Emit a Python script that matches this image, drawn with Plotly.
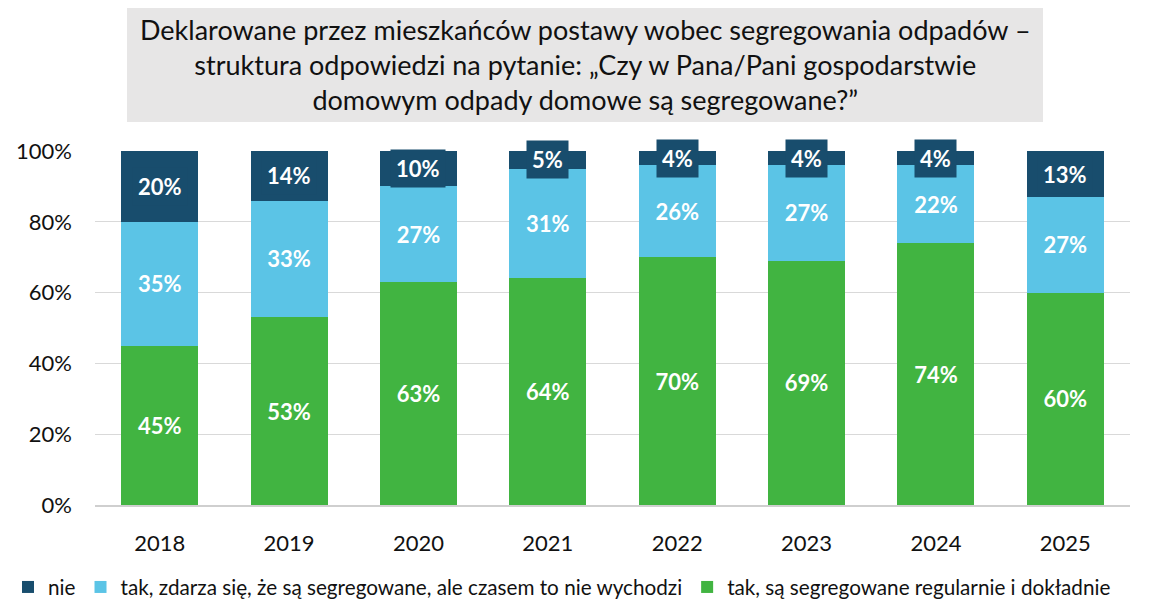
import plotly.graph_objects as go

years = ["2018", "2019", "2020", "2021", "2022", "2023", "2024", "2025"]
regularnie = [45, 53, 63, 64, 70, 69, 74, 60]
czasem = [35, 33, 27, 31, 26, 27, 22, 27]
nie = [20, 14, 10, 5, 4, 4, 4, 13]
y_ticks = [0, 20, 40, 60, 80, 100]

names = ["tak, są segregowane regularnie i dokładnie",
         "tak, zdarza się, że są segregowane, ale czasem to nie wychodzi",
         "nie"]
colors = ["#41B441", "#5BC4E6", "#184D6D"]

FONT = "Lato, sans-serif"

# page has an 8px body margin: figure sized/positioned so screen coords match
OFF = 8
W, H = 1156 - OFF, 600 - OFF
L, R, T, B = 95 - OFF, 26, 151 - OFF, 95
PW, PH = W - L - R, H - T - B


def px_x(x):
    return (x - OFF - L) / PW


def px_y(y):
    return (H - B - (y - OFF)) / PH


fig = go.Figure()
for vals, name, col, show_text in [(regularnie, names[0], colors[0], True),
                                    (czasem, names[1], colors[1], True),
                                    (nie, names[2], colors[2], False)]:
    fig.add_trace(go.Bar(
        x=years, y=vals, name=name, marker=dict(color=col, line=dict(width=0)),
        text=[f"{v}%" for v in vals] if show_text else None,
        textposition="inside" if show_text else "none",
        insidetextanchor="middle",
        textfont=dict(color="white", size=22, family=FONT, weight="bold"),
        constraintext="none",
        hoverinfo="skip",
    ))

# labels for top segment with dark background box
for i, y in enumerate(years):
    base = regularnie[i] + czasem[i]
    fig.add_annotation(
        x=i, y=base + nie[i] / 2, xref="x", yref="y",
        text=f"<b>{nie[i]}%</b>", showarrow=False,
        font=dict(color="white", size=22, family=FONT),
        bgcolor=colors[2], borderpad=5,
    )

# title box
fig.add_shape(type="rect", xref="paper", yref="paper",
              x0=px_x(127), x1=px_x(1043), y0=px_y(122), y1=px_y(7),
              fillcolor="#E7E6E6", line=dict(width=0), layer="below")
fig.add_annotation(
    xref="paper", yref="paper", x=px_x(585), y=px_y(65),
    xanchor="center", yanchor="middle", showarrow=False,
    text="Deklarowane przez mieszkańców postawy wobec segregowania odpadów –<br>"
         "struktura odpowiedzi na pytanie: „Czy w Pana/Pani gospodarstwie<br>"
         "domowym odpady domowe są segregowane?”",
    font=dict(size=27, family=FONT, color="#111111"),
    align="center",
)

fig.update_layout(
    barmode="stack",
    bargap=0.405,
    width=W, height=H,
    margin=dict(l=L, r=R, t=T, b=B, autoexpand=False),
    paper_bgcolor="white", plot_bgcolor="white",
    font=dict(family=FONT, size=22, color="#111111"),
    showlegend=True,
    legend=dict(orientation="h", traceorder="reversed",
                x=px_x(OFF), xanchor="left",
                y=px_y(587), yanchor="middle",
                font=dict(size=20.7, family=FONT), itemwidth=30,
                tracegroupgap=0),
)
fig.update_yaxes(range=[0, 100], tickmode="array", tickvals=y_ticks,
                 ticktext=[f"{v}%" for v in y_ticks],
                 showgrid=True, gridcolor="#D9D9D9", gridwidth=1,
                 zeroline=False, tickfont=dict(size=22, family=FONT), ticks="",
                 ticklabelstandoff=22)
fig.update_xaxes(type="category", range=[-0.5, 7.5],
                 tickfont=dict(size=22, family=FONT),
                 showline=True, linecolor="#CFCFCF", linewidth=1.5, ticks="",
                 ticklabelstandoff=18)

fig.write_html("out.html")
